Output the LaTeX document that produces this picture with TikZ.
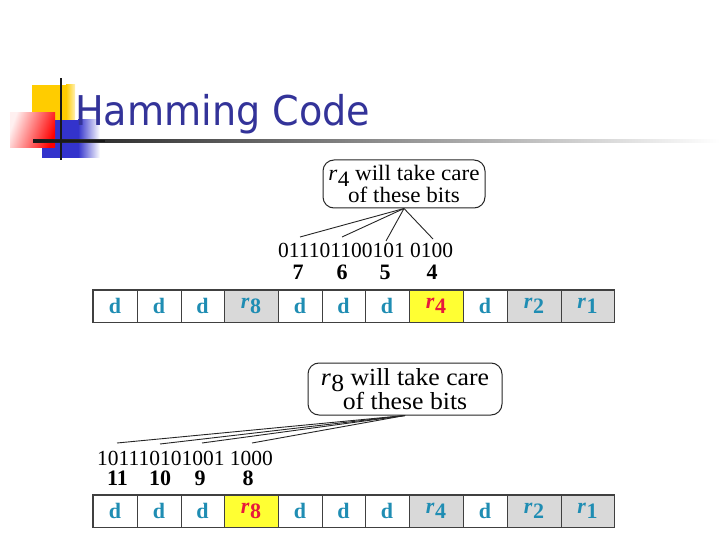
\documentclass[tikz,border=0pt]{standalone}
\usepackage{fontspec}
\setmainfont{Liberation Serif}
\newfontfamily\titlefont[FakeStretch=0.93]{DejaVu Sans}
\newfontfamily\callfont[FakeStretch=1.05]{Liberation Serif}
\definecolor{titleblue}{HTML}{333399}
\definecolor{cellteal}{HTML}{1F8DB3}
\definecolor{cellred}{HTML}{E8193C}
\definecolor{cellgray}{HTML}{D9D9D9}
\definecolor{cellyellow}{HTML}{FFFF33}
\definecolor{decoyellow}{HTML}{FFCC00}
\definecolor{decoblue}{HTML}{3333CC}
\newcommand\rlab[1]{\textmd{\textit{r}}\kern0.3pt\raisebox{-0.25em}{\textmd{#1}}}
\newcommand\rcell[1]{\textbf{\textit{r}}\kern0.3pt\raisebox{-0.22em}{\textbf{#1}}}
\begin{document}
\begin{tikzpicture}[x=1pt,y=-1pt,
  cell/.style={draw=black!75, line width=0.9pt, minimum height=32pt, inner sep=0pt,
    font=\fontsize{22}{22}\selectfont\bfseries},
  callout/.style={draw=black!85, line width=1pt, rounded corners=11pt, inner sep=0pt,
    align=center},
  bits/.style={anchor=base west, inner sep=0pt, font=\fontsize{21.5}{21.5}\selectfont},
  num/.style={inner sep=0pt, font=\fontsize{22}{22}\selectfont\bfseries},
  link/.style={draw=black!85, line width=0.9pt}]
\useasboundingbox (0,0) rectangle (720,540);
\fill[white] (0,0) rectangle (720,540);
% decorations
\fill[decoyellow] (32,85) rectangle (66,125);
\shade[left color=decoyellow, right color=decoyellow!30] (66,85) rectangle (75,125);
\fill[decoblue] (42,120) rectangle (78,158);
\shade[left color=decoblue, right color=white] (78,120) rectangle (100,158);
\shade[left color=red!6, right color=red, shading angle=70] (10,113) rectangle (55,148);
\shade[left color=black!90, right color=white] (33,139.7) rectangle (720,142.3);
\fill[black!90] (33,139.7) rectangle (105,142.3);
\fill[black!90] (59.8,78) rectangle (62.4,160);
% title
\node[anchor=base west, inner sep=0pt, text=titleblue,
  font=\titlefont\fontsize{41}{41}\selectfont] (title) at (75,126) {Hamming Code};
% table 1
\foreach \xa/\xb/\lab/\fc/\tc [count=\i] in {
  93/137/d/white/cellteal, 137/181/d/white/cellteal, 181/224/d/white/cellteal,
  224/278/\rcell{8}/cellgray/cellteal, 278/322/d/white/cellteal, 322/365/d/white/cellteal,
  365/409/d/white/cellteal, 409/463/\rcell{4}/cellyellow/cellred, 463/507/d/white/cellteal,
  507/561/\rcell{2}/cellgray/cellteal, 561/614/\rcell{1}/cellgray/cellteal}
  \node[cell, fill=\fc, text=\tc, minimum width={(\xb-\xa)*1pt}] (ta\i) at ({(\xa+\xb)/2},306) {\lab};
\draw[black!75, line width=1.6pt] (ta1.north west) rectangle (ta11.south east);
% table 2
\foreach \xa/\xb/\lab/\fc/\tc [count=\i] in {
  93/137/d/white/cellteal, 137/181/d/white/cellteal, 181/224/d/white/cellteal,
  224/278/\rcell{8}/cellyellow/cellred, 278/322/d/white/cellteal, 322/365/d/white/cellteal,
  365/409/d/white/cellteal, 409/463/\rcell{4}/cellgray/cellteal, 463/507/d/white/cellteal,
  507/561/\rcell{2}/cellgray/cellteal, 561/614/\rcell{1}/cellgray/cellteal}
  \node[cell, fill=\fc, text=\tc, minimum width={(\xb-\xa)*1pt}] (tb\i) at ({(\xa+\xb)/2},511) {\lab};
\draw[black!75, line width=1.6pt] (tb1.north west) rectangle (tb11.south east);
% callout 1
\node[callout, minimum width=162pt, minimum height=48pt,
  font=\callfont\fontsize{22}{18}\selectfont] (c1) at (404,184)
  {\rlab{4}\ will take care\\of these bits};
\node[bits] (bits1) at (278,258) {011101100101 0100};
\node[num] (n7) at (298,272) {7};
\node[num] (n6) at (342,272) {6};
\node[num] (n5) at (385,272) {5};
\node[num] (n4) at (432,272) {4};
\coordinate (e7) at (300,237);
\coordinate (e6) at (342,237);
\coordinate (e5) at (386,241);
\coordinate (e4) at (433,239);
\foreach \e in {e7,e6,e5,e4} \draw[link] (c1.south) -- (\e);
% callout 2
\node[callout, minimum width=194pt, minimum height=52pt,
  font=\callfont\fontsize{24.5}{20}\selectfont] (c2) at (405,389)
  {\rlab{8} will take care\\of these bits};
\node[bits] (bits2) at (97,465) {101110101001 1000};
\node[num] (n11) at (117.5,478) {11};
\node[num] (n10) at (160,478) {10};
\node[num] (n9) at (200,478) {9};
\node[num] (n8) at (248,478) {8};
\coordinate (e11) at (117,443);
\coordinate (e10) at (160,444);
\coordinate (e9) at (202,443);
\coordinate (e8) at (252,443);
\foreach \e in {e11,e10,e9,e8} \draw[link] (c2.south) -- (\e);
\end{tikzpicture}
\end{document}
